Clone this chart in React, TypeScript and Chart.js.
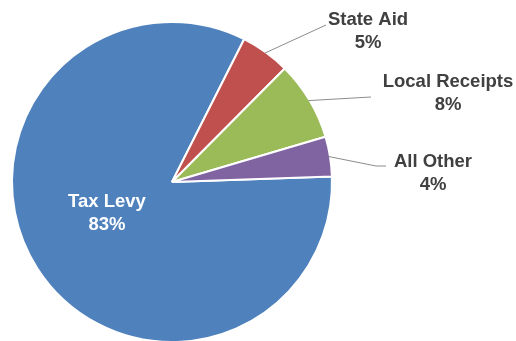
import React, { useEffect, useRef } from "react";
import { Chart, registerables } from "chart.js";

Chart.register(...registerables);

const categories = ["Tax Levy", "State Aid", "Local Receipts", "All Other"];
const shares = [83, 5, 8, 4];
const sliceColors = ["#4F81BD", "#C0504D", "#9BBB59", "#8064A2"];

// label layout, offsets relative to pie centre
type Lay = { inside?: boolean; tx: number; ty: number; pts?: [number, number][] };
const layouts: Lay[] = [
  { inside: true, tx: -65, ty: 31 },
  { tx: 196, ty: -162, pts: [[154, -157]] },
  { tx: 276, ty: -100, pts: [[199, -85]] },
  { tx: 261, ty: -20, pts: [[204, -16], [214, -16]] },
];

const labelPlugin = {
  id: "pieLabels",
  afterDatasetsDraw(chart: any) {
    const ctx = chart.ctx as CanvasRenderingContext2D;
    const meta = chart.getDatasetMeta(0);
    ctx.save();
    ctx.font = "bold 18.5px 'Liberation Sans', Arial, sans-serif";
    ctx.textAlign = "center";
    ctx.textBaseline = "middle";
    meta.data.forEach((arc: any, i: number) => {
      const p = arc.getProps(["x", "y", "startAngle", "endAngle", "outerRadius"], true);
      const cx = p.x, cy = p.y;
      const mid = (p.startAngle + p.endAngle) / 2;
      const lay = layouts[i];
      const lines = [categories[i], shares[i] + "%"];
      if (lay.inside) {
        ctx.fillStyle = "#FFFFFF";
        ctx.fillText(lines[0], cx + lay.tx, cy + lay.ty - 11.5);
        ctx.fillText(lines[1], cx + lay.tx, cy + lay.ty + 11.5);
      } else {
        const sx = cx + Math.cos(mid) * (p.outerRadius - 1);
        const sy = cy + Math.sin(mid) * (p.outerRadius - 1);
        ctx.strokeStyle = "#8C8C8C";
        ctx.lineWidth = 1;
        ctx.beginPath();
        ctx.moveTo(sx, sy);
        (lay.pts || []).forEach(([dx, dy]) => ctx.lineTo(cx + dx, cy + dy));
        ctx.stroke();
        ctx.fillStyle = "#404040";
        ctx.fillText(lines[0], cx + lay.tx, cy + lay.ty);
        ctx.fillText(lines[1], cx + lay.tx, cy + lay.ty + 23);
      }
    });
    ctx.restore();
  },
};

export default function App() {
  const ref = useRef<HTMLCanvasElement | null>(null);
  useEffect(() => {
    if (!ref.current) return;
    const chart = new Chart(ref.current, {
      type: "pie",
      data: {
        labels: categories,
        datasets: [
          {
            data: shares,
            backgroundColor: sliceColors,
            borderColor: "#FFFFFF",
            borderWidth: 2,
          },
        ],
      },
      options: {
        responsive: false,
        animation: false,
        rotation: 88,
        layout: { padding: { left: 10, right: 182, top: 21, bottom: 21 } },
        plugins: {
          legend: { display: false },
          tooltip: { enabled: false },
        },
      },
      plugins: [labelPlugin],
    });
    return () => chart.destroy();
  }, []);
  return (
    <div
      style={{
        position: "fixed",
        left: 0,
        top: 0,
        width: 516,
        height: 341,
        overflow: "hidden",
        background: "#FFFFFF",
      }}
    >
      <canvas ref={ref} width={516} height={364} style={{ width: 516, height: 364, display: "block" }} />
    </div>
  );
}
